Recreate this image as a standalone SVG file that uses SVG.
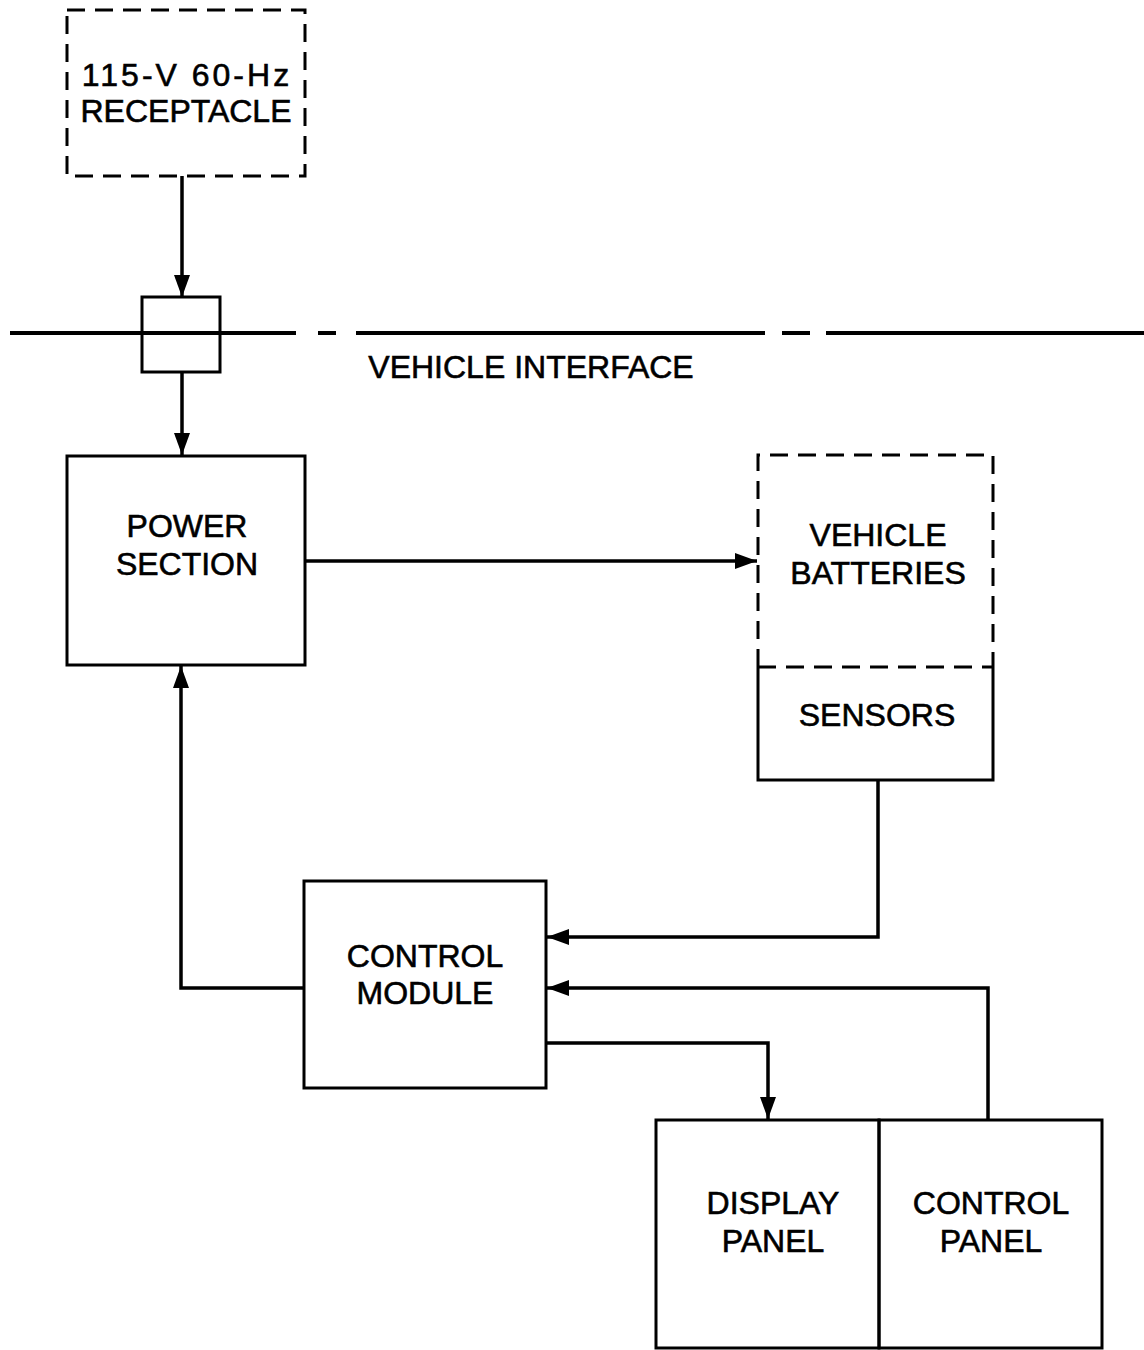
<svg xmlns="http://www.w3.org/2000/svg" width="1144" height="1350" viewBox="0 0 1144 1350">
<style>
.box{fill:none;stroke:#000;stroke-width:3}
.dash{fill:none;stroke:#000;stroke-width:3;stroke-dasharray:18 10}
.wire{fill:none;stroke:#000;stroke-width:3.5}
.iface{fill:none;stroke:#000;stroke-width:4}
.t{font-family:"Liberation Sans",Arial,sans-serif;font-size:32px;fill:#000;stroke:#000;stroke-width:0.6;text-anchor:middle}
</style>
<defs>
<marker id="ah" markerUnits="userSpaceOnUse" markerWidth="24" markerHeight="16" refX="22" refY="8" orient="auto">
<path d="M0,0 L22,8 L0,16 Z" fill="#000"/>
</marker>
</defs>
<rect width="1144" height="1350" fill="#fff"/>
<g id="receptacle">
<rect class="dash" x="67" y="10" width="238" height="166"/>
<text class="t" x="187" y="86" letter-spacing="3">115-V 60-Hz</text>
<text class="t" x="186" y="122">RECEPTACLE</text>
</g>
<g id="interface">
<path class="iface" d="M10,333 H296 M318,333 H336 M356,333 H765 M782,333 H810 M826,333 H1144"/>
<rect class="box" x="142" y="297" width="78" height="75"/>
<text class="t" x="531" y="378">VEHICLE INTERFACE</text>
</g>
<g id="power-section">
<rect class="box" x="67" y="456" width="238" height="209"/>
<text class="t" x="187" y="537">POWER</text>
<text class="t" x="187" y="575">SECTION</text>
</g>
<g id="vehicle-batteries">
<path class="dash" d="M758,667 V455 H993 V667"/>
<path class="dash" d="M758,667 H993"/>
<text class="t" x="878" y="546">VEHICLE</text>
<text class="t" x="878" y="584">BATTERIES</text>
</g>
<g id="sensors">
<path class="box" d="M758,667 V780 H993 V667"/>
<text class="t" x="877" y="726">SENSORS</text>
</g>
<g id="control-module">
<rect class="box" x="304" y="881" width="242" height="207"/>
<text class="t" x="425" y="967">CONTROL</text>
<text class="t" x="425" y="1004">MODULE</text>
</g>
<g id="display-panel">
<rect class="box" x="656" y="1120" width="223" height="228"/>
<text class="t" x="773" y="1214">DISPLAY</text>
<text class="t" x="773" y="1252">PANEL</text>
</g>
<g id="control-panel">
<rect class="box" x="879" y="1120" width="223" height="228"/>
<text class="t" x="991" y="1214">CONTROL</text>
<text class="t" x="991" y="1252">PANEL</text>
</g>
<g id="connectors">
<path class="wire" d="M182,176 V297" marker-end="url(#ah)"/>
<path class="wire" d="M182,372 V455" marker-end="url(#ah)"/>
<path class="wire" d="M305,561 H757" marker-end="url(#ah)"/>
<path class="wire" d="M878,780 V937 H547" marker-end="url(#ah)"/>
<path class="wire" d="M988,1120 V988 H547" marker-end="url(#ah)"/>
<path class="wire" d="M546,1043 H768 V1119" marker-end="url(#ah)"/>
<path class="wire" d="M304,988 H181 V666" marker-end="url(#ah)"/>
</g>
</svg>
